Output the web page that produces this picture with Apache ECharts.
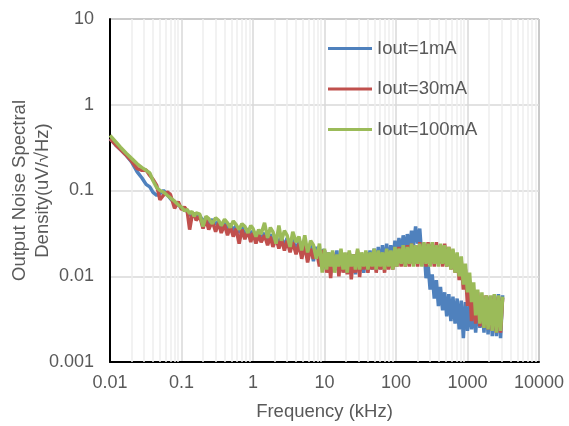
<!DOCTYPE html>
<html>
<head>
<meta charset="utf-8">
<script src="https://cdn.jsdelivr.net/npm/echarts@6/dist/echarts.min.js"></script>
<style>
  html, body { margin: 0; padding: 0; background: #fff; }
  #chart { width: 569px; height: 426px; }
</style>
</head>
<body>
<div id="chart"></div>
<script>
// frequency points (kHz)
var freq = [
  0.01, 0.012, 0.014, 0.017, 0.02, 0.024, 0.028, 0.032, 0.036, 0.04,
  0.045, 0.05, 0.056, 0.063, 0.07, 0.08, 0.09,
  0.1, 0.11, 0.12, 0.13, 0.14, 0.15, 0.16, 0.18, 0.2, 0.22,
  0.24, 0.27, 0.3, 0.33, 0.36, 0.4, 0.44, 0.48, 0.53, 0.58,
  0.64, 0.7, 0.77, 0.85, 0.93, 1.0, 1.1, 1.2, 1.3, 1.45,
  1.6, 1.75, 1.9, 2.1, 2.3, 2.5, 2.75, 3.0, 3.3, 3.6,
  4.0, 4.4, 4.8, 5.3, 5.8, 6.4, 7.0, 7.7, 8.5, 9.3,
  10, 10.7, 11.4, 12.2, 13, 13.9, 14.9, 15.9, 17, 18.2,
  19.4, 20.8, 22.2, 23.7, 25.4, 27.1, 29, 31, 33.1, 35.4,
  37.9, 40.5, 43.3, 46.3, 49.5, 52.9, 56.6, 60.5, 64.7, 69.2,
  74, 79.1, 84.6, 90.4, 96.7, 103, 110, 118, 126, 135,
  144, 154, 165, 176, 188, 201, 215, 230, 246, 263,
  281, 300, 321, 343, 367, 392, 419, 448, 479, 512,
  548, 586, 626, 670, 716, 765, 818, 875, 935, 1000,
  1070, 1140, 1220, 1300, 1390, 1490, 1590, 1700, 1820, 1940,
  2080, 2220, 2370, 2540, 2710, 2900, 3100
];

// Iout=1mA
var iout1 = [
  0.40, 0.34, 0.30, 0.255, 0.215, 0.165, 0.14, 0.118, 0.11, 0.095,
  0.088, 0.092, 0.1, 0.09, 0.08, 0.072, 0.068,
  0.063, 0.06, 0.057, 0.054, 0.049, 0.054, 0.048, 0.051, 0.044, 0.048,
  0.041, 0.046, 0.04, 0.044, 0.037, 0.043, 0.035, 0.041, 0.034, 0.039,
  0.032, 0.038, 0.03, 0.036, 0.029, 0.034, 0.027, 0.033, 0.027, 0.032,
  0.025, 0.031, 0.024, 0.03, 0.023, 0.029, 0.022, 0.028, 0.021, 0.027,
  0.02, 0.026, 0.019, 0.025, 0.018, 0.023, 0.015, 0.022, 0.016, 0.02,
  0.02, 0.012, 0.019, 0.011, 0.018, 0.012, 0.02, 0.011, 0.019, 0.012,
  0.018, 0.011, 0.019, 0.012, 0.018, 0.0105, 0.019, 0.012, 0.018, 0.011,
  0.019, 0.012, 0.02, 0.012, 0.021, 0.013, 0.022, 0.012, 0.023, 0.013,
  0.024, 0.013, 0.023, 0.014, 0.026, 0.016, 0.028, 0.018, 0.03, 0.02,
  0.031, 0.021, 0.034, 0.023, 0.038, 0.024, 0.036, 0.016, 0.022, 0.0095,
  0.0135, 0.007, 0.0105, 0.0055, 0.009, 0.0045, 0.0075, 0.004, 0.0065, 0.0034,
  0.0062, 0.003, 0.0058, 0.0028, 0.0055, 0.0024, 0.0052, 0.0019, 0.005, 0.0023,
  0.0048, 0.0024, 0.0045, 0.0022, 0.0046, 0.0025, 0.005, 0.0022, 0.0055, 0.0021,
  0.0058, 0.002, 0.006, 0.002, 0.0062, 0.0019, 0.006
];

// Iout=30mA
var iout30 = [
  0.40, 0.34, 0.30, 0.255, 0.22, 0.18, 0.172, 0.173, 0.15, 0.135,
  0.115, 0.078, 0.088, 0.096, 0.09, 0.062, 0.074,
  0.06, 0.064, 0.058, 0.035, 0.05, 0.055, 0.045, 0.05, 0.036, 0.046,
  0.035, 0.044, 0.033, 0.042, 0.032, 0.04, 0.03, 0.038, 0.029, 0.036,
  0.024, 0.035, 0.027, 0.034, 0.025, 0.032, 0.024, 0.031, 0.025, 0.03,
  0.023, 0.029, 0.022, 0.028, 0.021, 0.027, 0.02, 0.026, 0.019, 0.025,
  0.018, 0.024, 0.016, 0.023, 0.0145, 0.021, 0.016, 0.02, 0.013, 0.019,
  0.02, 0.011, 0.018, 0.0095, 0.019, 0.012, 0.017, 0.01, 0.02, 0.011,
  0.018, 0.0105, 0.019, 0.0092, 0.018, 0.011, 0.02, 0.0098, 0.018, 0.012,
  0.019, 0.011, 0.018, 0.012, 0.02, 0.011, 0.019, 0.012, 0.018, 0.011,
  0.02, 0.012, 0.019, 0.012, 0.021, 0.013, 0.022, 0.013, 0.022, 0.013,
  0.023, 0.013, 0.024, 0.014, 0.023, 0.013, 0.025, 0.014, 0.024, 0.013,
  0.025, 0.014, 0.024, 0.013, 0.025, 0.014, 0.023, 0.013, 0.024, 0.013,
  0.022, 0.012, 0.02, 0.011, 0.018, 0.009, 0.015, 0.007, 0.012, 0.0045,
  0.008, 0.003, 0.007, 0.0028, 0.0065, 0.0026, 0.006, 0.0025, 0.006, 0.0024,
  0.0058, 0.0023, 0.006, 0.0022, 0.0058, 0.0022, 0.0056
];

// Iout=100mA
var iout100 = [
  0.44, 0.37, 0.32, 0.27, 0.237, 0.205, 0.185, 0.172, 0.16, 0.13,
  0.108, 0.1, 0.096, 0.088, 0.082, 0.075, 0.068,
  0.064, 0.058, 0.06, 0.054, 0.057, 0.05, 0.055, 0.053, 0.038, 0.05,
  0.047, 0.041, 0.048, 0.045, 0.039, 0.046, 0.042, 0.037, 0.044, 0.04,
  0.035, 0.041, 0.038, 0.032, 0.039, 0.036, 0.029, 0.035, 0.031, 0.042,
  0.028, 0.037, 0.033, 0.024, 0.039, 0.026, 0.034, 0.03, 0.022, 0.033,
  0.025, 0.029, 0.02, 0.03, 0.019, 0.026, 0.023, 0.016, 0.024, 0.011,
  0.021, 0.012, 0.019, 0.013, 0.02, 0.011, 0.018, 0.013, 0.021, 0.012,
  0.019, 0.011, 0.02, 0.013, 0.018, 0.012, 0.021, 0.012, 0.019, 0.013,
  0.02, 0.012, 0.019, 0.013, 0.021, 0.012, 0.02, 0.013, 0.019, 0.012,
  0.021, 0.013, 0.02, 0.012, 0.022, 0.013, 0.021, 0.014, 0.023, 0.013,
  0.022, 0.014, 0.024, 0.013, 0.023, 0.014, 0.024, 0.013, 0.025, 0.014,
  0.024, 0.013, 0.025, 0.014, 0.023, 0.013, 0.024, 0.014, 0.023, 0.013,
  0.022, 0.012, 0.021, 0.011, 0.019, 0.01, 0.017, 0.008, 0.014, 0.0065,
  0.011, 0.005, 0.0085, 0.0035, 0.007, 0.0028, 0.0065, 0.0025, 0.006, 0.0024,
  0.006, 0.0023, 0.0062, 0.0022, 0.006, 0.0023, 0.0058
];

var seriesNames = ['Iout=1mA', 'Iout=30mA', 'Iout=100mA'];
var seriesColors = ['#4F81BD', '#C0504D', '#9BBB59'];
var xTicks = [0.01, 0.1, 1, 10, 100, 1000, 10000];

// minor vertical grid lines at 2..9 of every decade
var minorX = [];
xTicks.slice(0, -1).forEach(function (d) {
  for (var k = 2; k <= 9; k++) minorX.push(+(d * k).toPrecision(3));
});

function pairs(vals) {
  return freq.map(function (f, i) { return [f, vals[i]]; });
}

var font = "'Liberation Sans', Arial, sans-serif";
var textColor = '#595959';

var chart = echarts.init(document.getElementById('chart'));
chart.setOption({
  animation: false,
  backgroundColor: '#fff',
  grid: {
    left: 110, right: 30, top: 19, bottom: 64,
    containLabel: false, outerBoundsMode: 'none',
    show: true, borderColor: '#404040', borderWidth: 1
  },
  legend: {
    orient: 'vertical',
    left: 328, top: 39, padding: 0,
    itemGap: 21.5,
    itemWidth: 44, itemHeight: 3,
    icon: 'rect',
    data: seriesNames,
    textStyle: { color: textColor, fontSize: 18.5, fontFamily: font }
  },
  xAxis: {
    type: 'log', logBase: 10, min: 0.01, max: 10000,
    name: 'Frequency (kHz)', nameLocation: 'middle', nameGap: 40,
    nameTextStyle: { color: textColor, fontSize: 18.5, fontFamily: font },
    axisLine: { lineStyle: { color: '#000', width: 2 } },
    axisTick: { show: false },
    axisLabel: {
      color: textColor, fontSize: 18, fontFamily: font, margin: 12,
      formatter: function (v) { return String(+v.toPrecision(4)); }
    },
    splitLine: { show: true, lineStyle: { color: '#d9d9d9', width: 1.5 } },
    minorTick: { show: false },
    minorSplitLine: { show: false }
  },
  yAxis: {
    type: 'log', logBase: 10, min: 0.001, max: 10,
    name: 'Output Noise Spectral\nDensity(uV/\u221AHz)',
    nameLocation: 'middle', nameGap: 56, nameRotate: 90,
    nameMoveOverlap: false,
    nameTextStyle: { color: textColor, fontSize: 18.5, fontFamily: font, lineHeight: 23 },
    axisLine: { show: true, lineStyle: { color: '#000', width: 2 } },
    axisTick: { show: false },
    axisLabel: {
      color: textColor, fontSize: 18, fontFamily: font, margin: 16,
      formatter: function (v) { return String(+v.toPrecision(4)); }
    },
    splitLine: { show: true, lineStyle: { color: '#d9d9d9', width: 1.5 } }
  },
  series: [
    {
      name: 'minor', type: 'line', data: [], z: 1, silent: true,
      markLine: {
        silent: true, symbol: ['none', 'none'], animation: false, z: 1,
        label: { show: false },
        lineStyle: { color: '#eeeeee', width: 1.5, type: 'solid' },
        emphasis: { disabled: true },
        data: minorX.map(function (v) { return { xAxis: v }; })
      }
    },
    {
      name: seriesNames[0], type: 'line', data: pairs(iout1),
      showSymbol: false, color: seriesColors[0],
      lineStyle: { width: 3.5, color: seriesColors[0] }, z: 3
    },
    {
      name: seriesNames[1], type: 'line', data: pairs(iout30),
      showSymbol: false, color: seriesColors[1],
      lineStyle: { width: 3.5, color: seriesColors[1] }, z: 4
    },
    {
      name: seriesNames[2], type: 'line', data: pairs(iout100),
      showSymbol: false, color: seriesColors[2],
      lineStyle: { width: 3.5, color: seriesColors[2] }, z: 5
    }
  ]
});
</script>
</body>
</html>
